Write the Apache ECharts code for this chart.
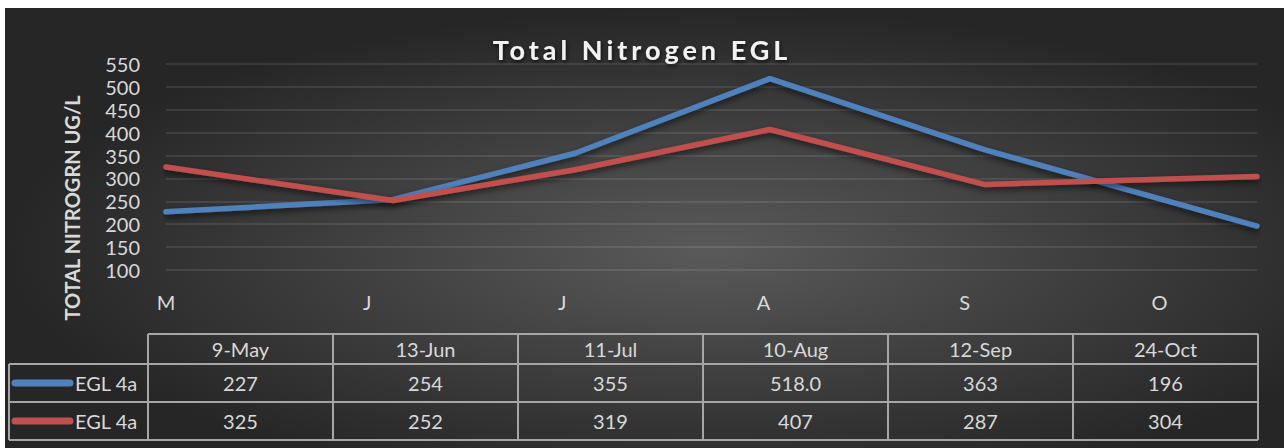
<!DOCTYPE html>
<html>
<head>
<meta charset="utf-8">
<script src="https://cdn.jsdelivr.net/npm/echarts@6/dist/echarts.min.js"></script>
<style>
    html,body{margin:0;padding:0;background:#fff;}
    #chart{width:1284px;height:448px;}
</style>
</head>
<body>
<div id="chart"></div>
<script>
// sample dates (same year throughout) and what the table shows for them
const sampleDates = ['2019-05-09', '2019-06-13', '2019-07-11', '2019-08-10', '2019-09-12', '2019-10-24'];
const dateLabels = ['9-May', '13-Jun', '11-Jul', '10-Aug', '12-Sep', '24-Oct'];
const seriesNames = ['EGL 4a', 'EGL 4a'];
const blueValues = ['227', '254', '355', '518.0', '363', '196'];
const redValues = ['325', '252', '319', '407', '287', '304'];
// month ticks of the date axis
const tickDates = ['2019-05-09', '2019-06-09', '2019-07-09', '2019-08-09', '2019-09-09', '2019-10-09'];
const tickLabels = ['M', 'J', 'J', 'A', 'S', 'O'];
const yTicks = [100, 550, 50]; // min, max, step

const titleText = 'Total Nitrogen EGL';
const colors = ['#4f81bd', '#c0504d'];
const font = 'Lato';
const textColor = '#d9d9d9';

function dayOf(d) {//days since the first sample
    let p = d.split('-'), s = sampleDates[0].split('-');
    return (Date.UTC(+p[0], p[1] - 1, +p[2]) - Date.UTC(+s[0], s[1] - 1, +s[2])) / 86400000;
}
const tickDays = tickDates.map(dayOf);

let chart = echarts.init(document.getElementById('chart'), null, {renderer: 'svg'});

// table under the plot
let tbl = {left: 9, colStart: 148, colW: 185, top: 334, rows: [364, 402, 440]};
let cols = dateLabels.length;
let right = tbl.colStart + cols * tbl.colW;
let lineStyle = {stroke: '#a6a6a6', lineWidth: 2};
let table = [];
table.push({type: 'line', shape: {x1: tbl.colStart, y1: tbl.top, x2: right, y2: tbl.top}, style: lineStyle});
for (let y of tbl.rows) {
    table.push({type: 'line', shape: {x1: tbl.left, y1: y, x2: right, y2: y}, style: lineStyle});
}
table.push({type: 'line', shape: {x1: tbl.left, y1: tbl.rows[0], x2: tbl.left, y2: tbl.rows[2]}, style: lineStyle});
for (let i = 0; i <= cols; i++) {
    let x = tbl.colStart + i * tbl.colW;
    table.push({type: 'line', shape: {x1: x, y1: tbl.top, x2: x, y2: tbl.rows[2]}, style: lineStyle});
}
let cellText = (txt, x, y, align) => ({
    type: 'text', x: x, y: y,
    style: {text: txt, fill: textColor, font: '20px ' + font, align: align || 'center', verticalAlign: 'middle'}
});
dateLabels.forEach((d, i) => {
    table.push(cellText(d, tbl.colStart + (i + 0.5) * tbl.colW, (tbl.top + tbl.rows[0]) / 2));
});
[blueValues, redValues].forEach((vals, r) => {
    let yc = (tbl.rows[r] + tbl.rows[r + 1]) / 2;
    table.push({type: 'line', shape: {x1: 15, y1: yc, x2: 70, y2: yc},
        style: {stroke: colors[r], lineWidth: 7, lineCap: 'round'}});
    table.push(cellText(seriesNames[r], 75, yc, 'left'));
    vals.forEach((v, i) => {
        table.push(cellText(v, tbl.colStart + (i + 0.5) * tbl.colW, yc));
    });
});

let graphic = [{
    type: 'rect', z: -10, x: 5, y: 8, scaleY: 440 / 1279, silent: true,
    shape: {x: 0, y: 0, width: 1279, height: 1279},
    style: {fill: new echarts.graphic.RadialGradient(0.55, 0.55, 0.55, [
        {offset: 0, color: '#5a5a5a'},
        {offset: 1, color: '#262626'}
    ])}
}, {
    type: 'text', x: 72, y: 208, rotation: Math.PI / 2,
    style: {text: 'TOTAL NITROGRN UG/L', fill: textColor, font: 'bold 20px ' + font,
        align: 'center', verticalAlign: 'middle'}
}].concat(table);

let lineSeries = (name, vals, color) => ({
    name: name,
    type: 'line',
    data: sampleDates.map((d, i) => [dayOf(d), Number(vals[i])]),
    symbol: 'none',
    lineStyle: {color: color, width: 5.5, cap: 'round', join: 'round',
        shadowColor: 'rgba(0,0,0,0.6)', shadowBlur: 6, shadowOffsetY: 3},
    itemStyle: {color: color}
});

chart.setOption({
    backgroundColor: '#ffffff',
    animation: false,
    title: {
        text: titleText,
        left: 'center',
        top: 31,
        textStyle: {color: '#f2f2f2', fontFamily: font, fontWeight: 'bold', fontSize: 27,
            textShadowColor: 'rgba(0,0,0,0.7)', textShadowBlur: 4, textShadowOffsetX: 1, textShadowOffsetY: 2}
    },
    grid: {left: 166, right: 27, top: 64, bottom: 178},
    xAxis: {
        type: 'value',
        min: 0,
        max: dayOf(sampleDates[sampleDates.length - 1]),
        axisLine: {show: false},
        axisTick: {show: false},
        splitLine: {show: false},
        axisLabel: {
            customValues: tickDays,
            formatter: v => tickLabels[tickDays.indexOf(v)] || '',
            color: textColor, fontFamily: font, fontSize: 20, margin: 22
        }
    },
    yAxis: {
        type: 'value',
        min: yTicks[0],
        max: yTicks[1],
        interval: yTicks[2],
        axisLine: {show: false},
        axisTick: {show: false},
        axisLabel: {color: textColor, fontFamily: font, fontSize: 20, margin: 26},
        splitLine: {lineStyle: {color: 'rgba(255,255,255,0.13)', width: 1.5}}
    },
    graphic: graphic,
    series: [
        lineSeries(seriesNames[0], blueValues, colors[0]),
        lineSeries(seriesNames[1], redValues, colors[1])
    ]
});

// the title is letter-spaced in the original
function spaceTitle() {
    for (let t of document.querySelectorAll('#chart text')) {
        if (t.textContent === titleText) {
            t.style.letterSpacing = '4px';
        }
    }
}
chart.on('finished', spaceTitle);
spaceTitle();
</script>
</body>
</html>
